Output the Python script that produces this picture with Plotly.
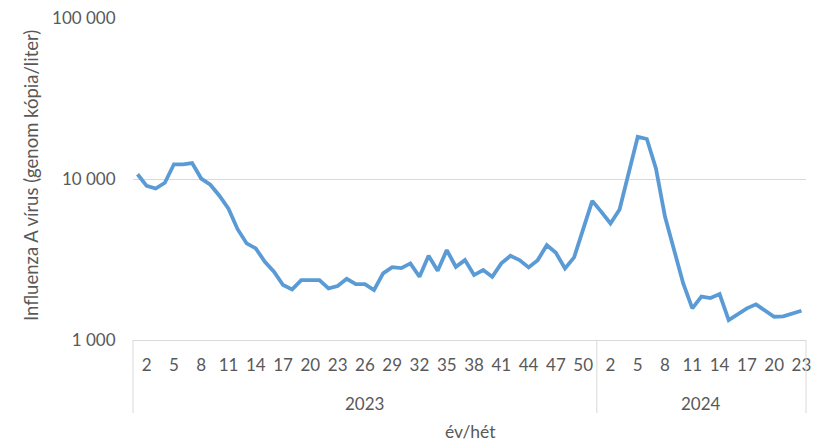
import plotly.graph_objects as go

weeks_2023 = list(range(1, 52))
weeks_2024 = list(range(1, 24))

values_2023 = [10740, 9085, 8750, 9510, 12390, 12390, 12600, 10100, 9240, 7900,
               6560, 4890, 3987, 3712, 3064, 2656, 2196, 2065, 2359, 2359,
               2359, 2095, 2165, 2403, 2228, 2228, 2045, 2596, 2841, 2801,
               2995, 2473, 3339, 2695, 3624, 2853, 3140, 2534, 2722, 2473,
               2995, 3339, 3140, 2829, 3140, 3890, 3485, 2789, 3264, 4890,
               7333]
values_2024 = [6265, 5306, 6482, 10850, 18360, 17800, 11660, 5834, 3546, 2250,
               1574, 1863, 1823, 1931, 1331, 1457, 1574, 1666, 1514, 1395,
               1404, 1472, 1521]

years = ["2023", "2024"]
y_ticks = [1000, 10000, 100000]
y_ticktext = ["1 000", "10 000", "100 000"]
y_title = "Influenza A vírus (genom kópia/liter)"
x_title = "év/hét"

weeks_all = weeks_2023 + weeks_2024
values_all = values_2023 + values_2024
idx = list(range(1, len(weeks_all) + 1))
n23 = len(weeks_2023)
n = len(weeks_all)

tickvals = [i for i in idx if (i - 2) % 3 == 0]
ticktext = [str(weeks_all[i - 1]) for i in tickvals]

FONT = "Lato"
COL = "#595959"
GRID = "#d9d9d9"
FS = 17

fig = go.Figure()
fig.add_trace(go.Scatter(
    x=idx, y=values_all, mode="lines",
    line=dict(color="#5b9bd5", width=3.8),
    hoverinfo="skip", showlegend=False,
))

plot_left, plot_right = 133, 806
plot_top, plot_bot = 18, 340
ph = plot_bot - plot_top
pw = plot_right - plot_left

def py(ypix):
    return (plot_bot - ypix) / ph

def px(xpix):
    return (xpix - plot_left) / pw

fig.update_layout(
    width=817, height=447,
    margin=dict(l=plot_left, r=817 - plot_right, t=plot_top, b=447 - plot_bot, autoexpand=False),
    paper_bgcolor="white", plot_bgcolor="white",
    font=dict(family=FONT, color=COL, size=FS),
    hovermode=False,
    xaxis=dict(
        range=[0.5, n + 0.5], tickmode="array", tickvals=tickvals, ticktext=ticktext,
        showgrid=False, zeroline=False, showline=True, linecolor=GRID, linewidth=1,
        ticks="outside", ticklen=10, tickcolor="rgba(0,0,0,0)",
        tickfont=dict(size=FS, color=COL, family=FONT), automargin=False,
    ),
    yaxis=dict(
        type="log", range=[3, 5.003], tickmode="array", tickvals=y_ticks, ticktext=y_ticktext,
        showgrid=True, gridcolor=GRID, gridwidth=1, zeroline=False, showline=False,
        ticks="outside", ticklen=13, tickcolor="rgba(0,0,0,0)",
        tickfont=dict(size=FS, color=COL, family=FONT), automargin=False,
    ),
)

# y axis title
fig.add_annotation(x=px(31), xref="paper", y=py(176), yref="paper", text=y_title,
                   textangle=-90, showarrow=False,
                   font=dict(size=18.5, color=COL, family=FONT),
                   xanchor="center", yanchor="middle")

# year group labels
centers = [(1 + n23) / 2, (n23 + 1 + n) / 2]
for yr, c in zip(years, centers):
    fig.add_annotation(x=c, xref="x", y=py(403), yref="paper", text=yr,
                       showarrow=False, font=dict(size=FS, color=COL, family=FONT),
                       yanchor="middle")

fig.add_annotation(x=px(470), xref="paper", y=py(432), yref="paper", text=x_title,
                   showarrow=False, font=dict(size=17.5, color=COL, family=FONT),
                   yanchor="middle")

# category group dividers
for xp in [0, n23 / n, 1]:
    fig.add_shape(type="line", xref="paper", yref="paper", x0=xp, x1=xp,
                  y0=0, y1=py(413), line=dict(color=GRID, width=1))

fig.write_html("out.html", config={"displayModeBar": False},
               post_script="document.body.style.margin='0';")
